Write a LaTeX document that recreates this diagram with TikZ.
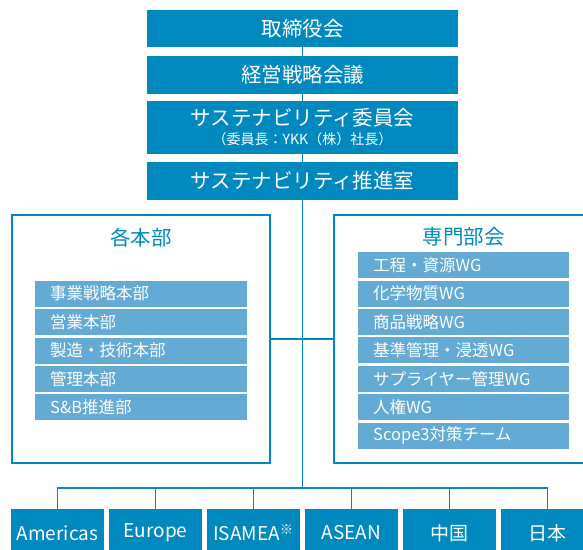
\documentclass[tikz,border=0pt]{standalone}
\usepackage{fontspec}
\setmainfont{Noto Sans CJK JP}
\definecolor{orgblue}{RGB}{0,137,191}
\definecolor{rowblue}{RGB}{99,170,213}

\begin{document}
\begin{tikzpicture}[x=1pt,y=-1pt,
    topbox/.style={fill=orgblue,text=white,minimum width=311pt,inner sep=0pt,align=center,font=\fontsize{20.5}{24}\selectfont},
    panel/.style={draw=orgblue,line width=1.6pt,minimum height=248pt,inner sep=0pt},
    paneltitle/.style={text=orgblue,font=\fontsize{20.5}{24}\selectfont},
    rowbox/.style={fill=rowblue,text=white,anchor=north west,minimum height=26pt,inner xsep=15pt,inner ysep=0pt,align=left,font=\fontsize{16.5}{19}\selectfont},
    regbox/.style={fill=orgblue,text=white,minimum width=93pt,minimum height=48pt,inner sep=0pt,font=\fontsize{19}{22}\selectfont},
    link/.style={draw=orgblue,line width=1.4pt}]
	\useasboundingbox (0,0) rectangle (583,549);
	\clip (0,0) rectangle (583,549);
	% top of the chart
	\node[topbox,minimum height=37pt] (board) at (302.5,28.5) {取締役会};
	\node[topbox,minimum height=38pt] (mgmt) at (302.5,75) {経営戦略会議};
	\node[topbox,minimum height=53pt] (comm) at (302.5,127.5) {サステナビリティ委員会\\[-5pt]{\fontsize{14}{16}\selectfont （委員長：YKK（株）社長）}};
	\node[topbox,minimum height=38pt] (office) at (302.5,181) {サステナビリティ推進室};
	\coordinate (hub) at (302.5,488);
	\draw[link] (board) -- (mgmt);
	\draw[link] (mgmt) -- (comm);
	\draw[link] (comm) -- (office);
	\draw[link] (office) -- (hub);
	% divisions
	\node[panel,minimum width=258pt] (divs) at (141,339) {};
	\node[paneltitle] (divsT) at (141,238) {各本部};
	\foreach \txt [count=\i from 0] in {事業戦略本部, 営業本部, 製造・技術本部, 管理本部, S\&B推進部}
		\node[rowbox,text width=182pt] (div\i) at ({35},{280.5+28.4*\i}) {\txt};
	% working groups
	\node[panel,minimum width=259pt] (wgs) at (463.5,339) {};
	\node[paneltitle] (wgsT) at (463.5,237) {専門部会};
	\foreach \txt [count=\i from 0] in {工程・資源WG, 化学物質WG, 商品戦略WG, 基準管理・浸透WG, サプライヤー管理WG, 人権WG, Scope3対策チーム}
		\node[rowbox,text width=181pt] (wg\i) at ({358},{252+28.4*\i}) {\txt};
	\draw[link] (divs.east) -- (divs.east -| hub);
	\draw[link] (wgs.west) -- (wgs.west -| hub);
	% regions
	\foreach \name/\txt [count=\i from 0] in {am/Americas, eu/Europe, is/ISAMEA\textsuperscript{※}, as/ASEAN, cn/中国, jp/日本}
		\node[regbox] (\name) at ({57.5+98*\i},533) {\txt};
	\draw[link] (am.north) |- (hub) -| (jp.north);
	\foreach \name in {eu,is,as,cn}
		\draw[link] (\name.north) -- (\name.north |- hub);
\end{tikzpicture}
\end{document}
